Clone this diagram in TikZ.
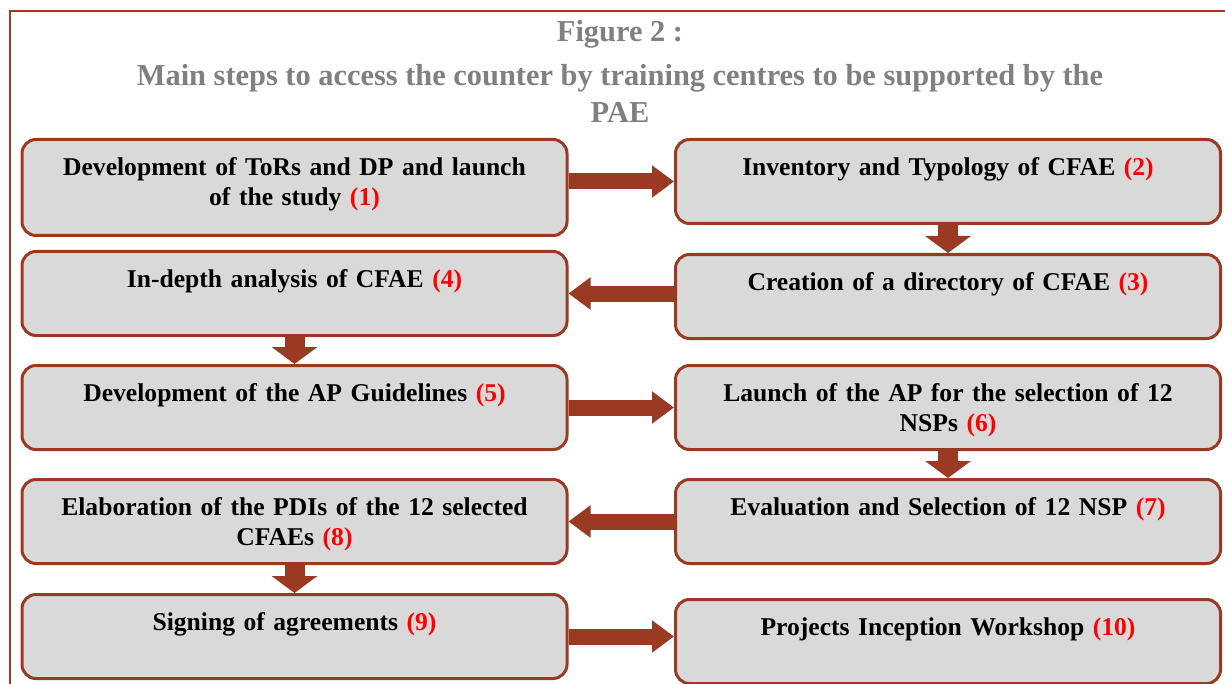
\documentclass[tikz,border=0pt]{standalone}
\usepackage{fontspec}
\setmainfont{Liberation Serif}
\usetikzlibrary{positioning, arrows.meta}
\definecolor{rust}{HTML}{9B3A22}
\definecolor{boxgray}{HTML}{D9D9D9}
\definecolor{titlegray}{HTML}{808080}
\newcommand{\stepno}[1]{\textcolor{red}{(#1)}}

\begin{document}
\begin{tikzpicture}[x=0.5pt, y=-0.5pt,
  stepbox/.style={draw=rust, line width=1.5pt, fill=boxgray, rounded corners=7pt, anchor=north west,
    text width=272.5pt, inner xsep=0pt, inner ysep=0pt, align=center, text height=18pt, text depth=24pt,
    font=\bfseries\fontsize{12.8}{15}\selectfont},
  titletext/.style={anchor=base, text=titlegray, align=center, font=\bfseries\fontsize{15.2}{18.5}\selectfont},
  hflow/.style={draw=rust, line width=8pt, -{Triangle[length=11pt, width=15.5pt]}},
  vflow/.style={draw=rust, line width=10pt, -{Triangle[length=8.5pt, width=22.5pt]}}]
\useasboundingbox (0,0) rectangle (1225,684);
\draw[rust, line width=0.6pt] (10,684) -- (10,11) -- (1225,11);
% title
\node[titletext] (figlabel) at (620,42) {Figure 2 :};
\node[titletext] (figcaption) at (620,123)
  {Main steps to access the counter by training centres to be supported by the\\PAE};
% steps
\node[stepbox, text depth=30pt] (tors) at (20.5,138) {Development of ToRs and DP and launch\\of the study \stepno{1}};
\node[stepbox] (inventory) at (674,138) {Inventory and Typology of CFAE \stepno{2}};
\node[stepbox] (directory) at (674,253) {Creation of a directory of CFAE \stepno{3}};
\node[stepbox] (analysis) at (20.5,250) {In-depth analysis of CFAE \stepno{4}};
\node[stepbox] (guidelines) at (20.5,364) {Development of the AP Guidelines \stepno{5}};
\node[stepbox] (launch) at (674,364) {Launch of the AP for the selection of 12\\NSPs \stepno{6}};
\node[stepbox] (selection) at (674,478) {Evaluation and Selection of 12 NSP \stepno{7}};
\node[stepbox] (pdis) at (20.5,478) {Elaboration of the PDIs of the 12 selected\\CFAEs \stepno{8}};
\node[stepbox] (signing) at (20.5,593) {Signing of agreements \stepno{9}};
\node[stepbox] (workshop) at (674,598) {Projects Inception Workshop \stepno{10}};
% flow
\draw[hflow] (inventory.west -| tors.east) -- (inventory.west);
\draw[vflow] (inventory.south) -- (directory.north);
\draw[hflow] (analysis.east -| directory.west) -- (analysis.east);
\draw[vflow] (analysis.south) -- (guidelines.north);
\draw[hflow] (guidelines.east) -- (launch.west);
\draw[vflow] (launch.south) -- (selection.north);
\draw[hflow] (selection.west) -- (pdis.east);
\draw[vflow] (pdis.south) -- (signing.north);
\draw[hflow] (signing.east) -- (signing.east -| workshop.west);
\end{tikzpicture}
\end{document}
